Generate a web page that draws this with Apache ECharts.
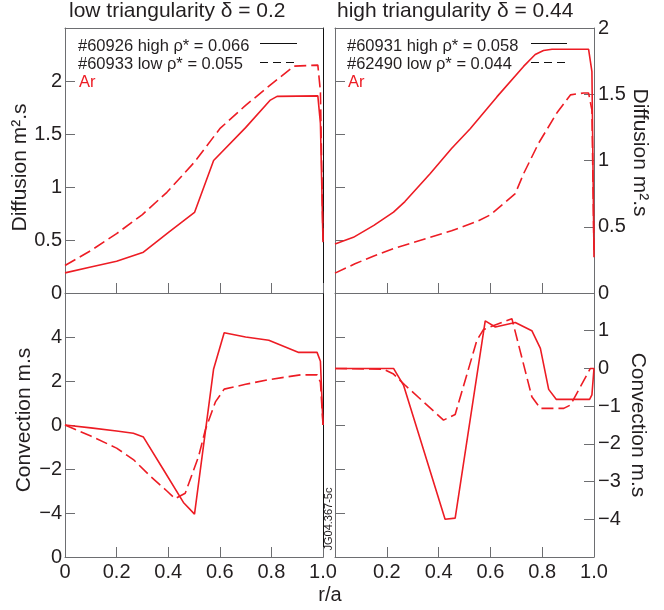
<!DOCTYPE html>
<html><head><meta charset="utf-8">
<script src="https://cdn.jsdelivr.net/npm/echarts@6/dist/echarts.min.js"></script>
<style>html,body{margin:0;padding:0;background:#fff}#c{width:664px;height:610px}</style>
</head><body><div id="c"></div>
<script>
// ---- data (r/a, value) ----
const diffLowHigh_r = [0, 0.1, 0.2, 0.304, 0.4, 0.502, 0.576, 0.7, 0.796, 0.822, 0.98, 0.99, 1.0];
const diffLowHigh_v = [0.19, 0.245, 0.30, 0.385, 0.57, 0.76, 1.25, 1.56, 1.82, 1.855, 1.86, 1.6, 0.48];
const diffLowLow_r = [0, 0.1, 0.2, 0.3, 0.395, 0.5, 0.6, 0.7, 0.8, 0.887, 0.98, 0.99, 1.0];
const diffLowLow_v = [0.26, 0.40, 0.56, 0.74, 0.95, 1.23, 1.55, 1.77, 1.97, 2.14, 2.15, 1.9, 0.48];

const diffHighHigh_r = [0, 0.071, 0.15, 0.226, 0.27, 0.367, 0.45, 0.522, 0.625, 0.728, 0.773, 0.805, 0.838, 0.979, 0.992, 1.0];
const diffHighHigh_v = [0.37, 0.42, 0.51, 0.61, 0.69, 0.90, 1.09, 1.24, 1.48, 1.71, 1.80, 1.83, 1.84, 1.84, 1.67, 0.27];
const diffHighLow_r = [0, 0.077, 0.15, 0.226, 0.367, 0.45, 0.548, 0.6, 0.696, 0.728, 0.786, 0.857, 0.909, 0.96, 0.979, 0.992, 1.0];
const diffHighLow_v = [0.15, 0.22, 0.28, 0.335, 0.42, 0.47, 0.54, 0.59, 0.75, 0.90, 1.13, 1.36, 1.495, 1.51, 1.51, 1.38, 0.3];

const convLowHigh_r = [0, 0.1, 0.2, 0.265, 0.304, 0.38, 0.459, 0.502, 0.576, 0.617, 0.7, 0.79, 0.906, 0.977, 0.99, 1.0];
const convLowHigh_v = [0, -0.13, -0.27, -0.375, -0.55, -2.0, -3.52, -4.05, 2.55, 4.19, 4.0, 3.85, 3.30, 3.30, 2.9, 0];
const convLowLow_r = [0, 0.1, 0.2, 0.265, 0.33, 0.395, 0.427, 0.466, 0.518, 0.544, 0.583, 0.617, 0.7, 0.783, 0.913, 0.977, 0.99, 1.0];
const convLowLow_v = [0, -0.5, -1.05, -1.57, -2.32, -3.0, -3.35, -3.1, -1.42, -0.22, 1.05, 1.63, 1.85, 2.05, 2.28, 2.28, 1.95, 0];

const convHighHigh_r = [0, 0.226, 0.265, 0.425, 0.464, 0.58, 0.619, 0.696, 0.76, 0.793, 0.825, 0.854, 0.983, 0.992, 1.0];
const convHighHigh_v = [0, 0, -0.45, -4.0, -3.97, 1.26, 1.10, 1.22, 1.0, 0.53, -0.555, -0.82, -0.82, -0.7, 0];
const convHighLow_r = [0, 0.187, 0.226, 0.27, 0.419, 0.464, 0.548, 0.573, 0.683, 0.76, 0.793, 0.883, 0.909, 0.986, 1.0];
const convHighLow_v = [0, -0.02, -0.15, -0.44, -1.37, -1.22, 0.75, 1.03, 1.32, -0.75, -1.06, -1.06, -0.97, 0, 0];

// ---- text ----
const panelTitles = ['low triangularity δ = 0.2', 'high triangularity δ = 0.44'];
const legendLow = ['#60926 high ρ* = 0.066', '#60933 low ρ* = 0.055'];
const legendHigh = ['#60931 high ρ* = 0.058', '#62490 low ρ* = 0.044'];
const speciesLabel = 'Ar';
const xTickLabels = ['0', '0.2', '0.4', '0.6', '0.8', '1.0'];

const FONT = "'Liberation Sans', Arial, Helvetica, sans-serif";
const RED = '#ed1c24';
const TXT = '#231f20';
const AX = '#6d6e71';

const zip = (a, b) => a.map((x, i) => [x, b[i]]);
const near = (a, b) => Math.abs(a - b) < 1e-9;
const fmtSigned = v => v < 0 ? '\u2212' + String(-v) : String(v);

const G = [
  {left: 65, top: 28, width: 258, height: 265},
  {left: 335, top: 28, width: 259, height: 265},
  {left: 65, top: 293, width: 258, height: 264},
  {left: 335, top: 293, width: 259, height: 264}
];

function xAx(gi, showLabels, hideZero) {
  return {
    type: 'value', gridIndex: gi, position: 'bottom', min: 0, max: 1, interval: 0.2,
    axisLine: {show: true, onZero: false, lineStyle: {color: AX, width: 1}},
    axisTick: {show: true, inside: true, length: 10, lineStyle: {color: AX}},
    splitLine: {show: false},
    axisLabel: {
      show: showLabels, margin: 5, fontSize: 20, color: TXT, fontFamily: FONT,
      formatter: v => {
        const idx = Math.round(v / 0.2);
        if (hideZero && idx === 0) return '';
        return xTickLabels[idx];
      }
    }
  };
}

function edgeAx(gi, pos, color) {
  return {
    type: 'value', gridIndex: gi, position: pos, min: 0, max: 1,
    axisLine: {show: true, onZero: false, lineStyle: {color: color, width: 1}},
    axisTick: {show: false}, axisLabel: {show: false}, splitLine: {show: false}
  };
}

const nameStyle = pad => ({fontSize: 21, color: TXT, fontFamily: FONT, padding: pad});

const yAxes = [
  // 0: top-left diffusion
  {type: 'value', gridIndex: 0, position: 'left', min: 0, max: 2.5, interval: 0.5,
   axisLine: {show: true, onZero: false, lineStyle: {color: AX}},
   axisTick: {show: true, inside: true, length: 10, lineStyle: {color: AX}},
   splitLine: {show: false},
   axisLabel: {margin: 3, fontSize: 20, color: TXT, fontFamily: FONT,
     formatter: v => near(v, 2.5) ? '' : String(v)},
   name: 'Diffusion m\u00b2.s', nameLocation: 'middle', nameGap: 30, nameTextStyle: nameStyle([0, 14, 0, 0])},
  // 1: separator line
  edgeAx(0, 'right', '#111'),
  // 2: top-right left ticks (mirrors left scale)
  {type: 'value', gridIndex: 1, position: 'left', min: 0, max: 2.5, interval: 0.5,
   axisLine: {show: true, onZero: false, lineStyle: {color: AX}},
   axisTick: {show: true, inside: true, length: 10, lineStyle: {color: AX}},
   axisLabel: {show: false}, splitLine: {show: false}},
  // 3: top-right diffusion (right)
  {type: 'value', gridIndex: 1, position: 'right', min: 0, max: 2, interval: 0.5,
   axisLine: {show: true, onZero: false, lineStyle: {color: AX}},
   axisTick: {show: true, inside: true, length: 10, lineStyle: {color: AX}},
   splitLine: {show: false},
   axisLabel: {margin: 4, fontSize: 20, color: TXT, fontFamily: FONT, formatter: v => String(v)},
   name: 'Diffusion m\u00b2.s', nameLocation: 'middle', nameGap: 33, nameRotate: -90, nameTextStyle: nameStyle([0, 16, 0, 0])},
  // 4: bottom-left convection
  {type: 'value', gridIndex: 2, position: 'left', min: -6, max: 6, interval: 2,
   axisLine: {show: true, onZero: false, lineStyle: {color: AX}},
   axisTick: {show: true, inside: true, length: 10, lineStyle: {color: AX}},
   splitLine: {show: false},
   axisLabel: {margin: 3, fontSize: 20, color: TXT, fontFamily: FONT,
     formatter: v => v === 6 ? '' : (v === -6 ? '0' : fmtSigned(v))},
   name: 'Convection m.s', nameLocation: 'middle', nameGap: 30, nameTextStyle: nameStyle([0, 0, 0, 10])},
  // 5: separator line
  edgeAx(2, 'right', '#111'),
  // 6: bottom-right left ticks (mirrors left scale)
  {type: 'value', gridIndex: 3, position: 'left', min: -6, max: 6, interval: 2,
   axisLine: {show: true, onZero: false, lineStyle: {color: AX}},
   axisTick: {show: true, inside: true, length: 10, lineStyle: {color: AX}},
   axisLabel: {show: false}, splitLine: {show: false}},
  // 7: bottom-right convection (right)
  {type: 'value', gridIndex: 3, position: 'right', min: -5, max: 2, interval: 1,
   axisLine: {show: true, onZero: false, lineStyle: {color: AX}},
   axisTick: {show: true, inside: true, length: 10, lineStyle: {color: AX}},
   splitLine: {show: false},
   axisLabel: {margin: 4, fontSize: 20, color: TXT, fontFamily: FONT,
     formatter: v => (v === 2 || v === -5) ? '' : fmtSigned(v)},
   name: 'Convection m.s', nameLocation: 'middle', nameGap: 33, nameRotate: -90, nameTextStyle: nameStyle([0, 0, 0, 0])}
];

const xAxes = [xAx(0, false, false), xAx(1, false, false), xAx(2, true, false), xAx(3, true, true),
  edgeAx(0, 'top', AX), edgeAx(1, 'top', AX)];

function line(name, xi, yi, r, v, dashed) {
  return {
    type: 'line', name: name, xAxisIndex: xi, yAxisIndex: yi, data: zip(r, v),
    showSymbol: false, symbol: 'none', smooth: false, clip: true,
    lineStyle: {color: RED, width: 1.6, type: dashed ? [12, 5] : 'solid'},
    emphasis: {disabled: true}
  };
}

function legendGraphics(x0, lx0, lx1, lines) {
  const f = '16.5px ' + FONT;
  return [
    {type: 'text', style: {x: x0, y: 46, text: lines[0], fill: TXT, font: f, verticalAlign: 'middle'}},
    {type: 'text', style: {x: x0, y: 64, text: lines[1], fill: TXT, font: f, verticalAlign: 'middle'}},
    {type: 'text', style: {x: x0 + 1, y: 82, text: speciesLabel, fill: RED, font: f, verticalAlign: 'middle'}},
    {type: 'line', shape: {x1: lx0, y1: 43.5, x2: lx1, y2: 43.5}, style: {stroke: '#111', lineWidth: 1.2}},
    {type: 'line', shape: {x1: lx0, y1: 62.5, x2: lx1, y2: 62.5}, style: {stroke: '#111', lineWidth: 1.2, lineDash: [8, 5]}}
  ];
}

const chart = echarts.init(document.getElementById('c'), null, {renderer: 'canvas'});
chart.setOption({
  animation: false,
  backgroundColor: '#fff',
  title: [
    {text: panelTitles[0], left: 69, top: 1, padding: 0, textStyle: {fontSize: 21, fontWeight: 'normal', color: TXT, fontFamily: FONT}},
    {text: panelTitles[1], left: 337, top: 1, padding: 0, textStyle: {fontSize: 21, fontWeight: 'normal', color: TXT, fontFamily: FONT}}
  ],
  grid: G,
  xAxis: xAxes,
  yAxis: yAxes,
  series: [
    line('#60926', 0, 0, diffLowHigh_r, diffLowHigh_v, false),
    line('#60933', 0, 0, diffLowLow_r, diffLowLow_v, true),
    line('#60931', 1, 3, diffHighHigh_r, diffHighHigh_v, false),
    line('#62490', 1, 3, diffHighLow_r, diffHighLow_v, true),
    line('#60926', 2, 4, convLowHigh_r, convLowHigh_v, false),
    line('#60933', 2, 4, convLowLow_r, convLowLow_v, true),
    line('#60931', 3, 7, convHighHigh_r, convHighHigh_v, false),
    line('#62490', 3, 7, convHighLow_r, convHighLow_v, true)
  ],
  graphic: [].concat(
    legendGraphics(78, 260, 297, legendLow),
    legendGraphics(347, 531, 567, legendHigh),
    [
      {type: 'text', style: {x: 330, y: 595, text: 'r/a', fill: TXT, font: '20px ' + FONT, align: 'center', verticalAlign: 'middle'}},
      {type: 'text', x: 329, y: 519, rotation: Math.PI / 2, style: {x: 0, y: 0, text: 'JG04.367-5c', fill: TXT, font: '11px ' + FONT, align: 'center', verticalAlign: 'middle'}}
    ]
  )
});
</script>
</body></html>
